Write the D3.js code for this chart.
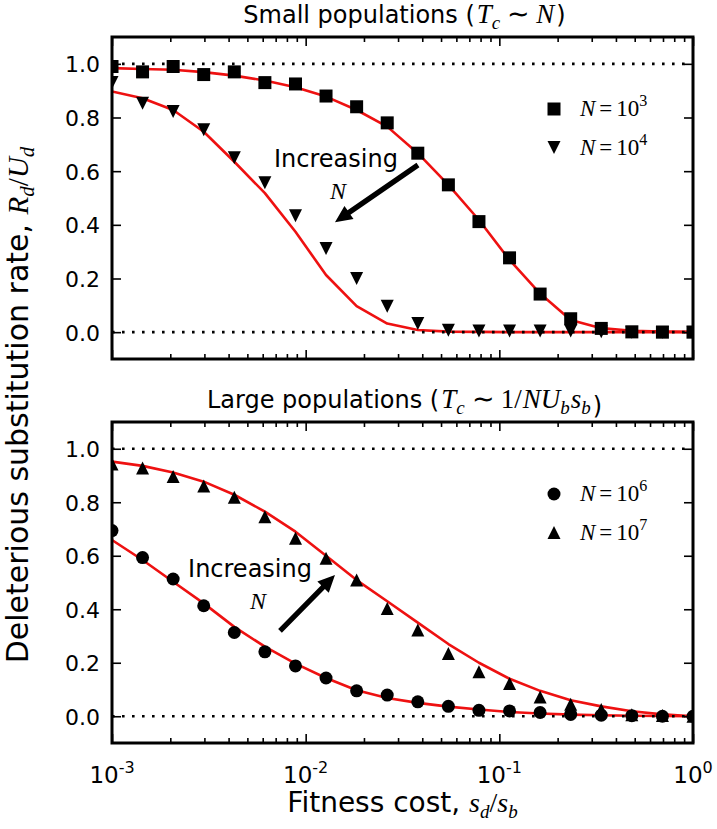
<!DOCTYPE html>
<html><head><meta charset="utf-8">
<script src="https://cdn.jsdelivr.net/npm/d3@7"></script>
<style>
body{margin:0;background:#fff}
svg{display:block;font-family:"DejaVu Sans",sans-serif}
</style>
</head><body>
<svg id="chart" width="717" height="829"></svg>
<script>
// ---------- data ----------
const xValues = [0.001, 0.001438, 0.002069, 0.002976, 0.004281, 0.006158, 0.008859, 0.01274, 0.01833, 0.02637,
                 0.03793, 0.05456, 0.07848, 0.1129, 0.1624, 0.2336, 0.3360, 0.4833, 0.6952, 1.0];

// Small populations
const simN1e3 = [0.99, 0.97, 0.99, 0.96, 0.97, 0.93, 0.925, 0.88, 0.84, 0.78,
                 0.667, 0.549, 0.412, 0.277, 0.142, 0.05, 0.014, 0.001, 0.0, 0.0];
const simN1e4 = [0.93, 0.853, 0.822, 0.754, 0.650, 0.557, 0.434, 0.312, 0.200, 0.097,
                 0.032, 0.007, 0.004, 0.004, 0.004, 0.004, 0.002, 0.0, 0.0, 0.0];
const theoryN1e3 = [0.984, 0.981, 0.978, 0.969, 0.956, 0.938, 0.913, 0.878, 0.828, 0.766,
                    0.667, 0.549, 0.418, 0.269, 0.144, 0.045, 0.015, 0.005, 0.002, 0.001];
const theoryN1e4 = [0.897, 0.872, 0.828, 0.747, 0.635, 0.518, 0.374, 0.213, 0.097, 0.032,
                    0.008, 0.002, 0.001, 0.0, 0.0, 0.0, 0.0, 0.0, 0.0, 0.0];

// Large populations
const simN1e6 = [0.694, 0.593, 0.513, 0.413, 0.313, 0.241, 0.188, 0.143, 0.095, 0.079,
                 0.054, 0.037, 0.022, 0.020, 0.014, 0.007, 0.004, 0.002, 0.0, 0.0];
const simN1e7 = [0.943, 0.928, 0.896, 0.861, 0.819, 0.746, 0.665, 0.591, 0.509, 0.403,
                 0.322, 0.235, 0.166, 0.122, 0.072, 0.045, 0.025, 0.006, 0.003, 0.0];
const theoryN1e6 = [0.659, 0.584, 0.503, 0.422, 0.334, 0.260, 0.197, 0.143, 0.097, 0.068,
                    0.050, 0.036, 0.025, 0.016, 0.010, 0.006, 0.004, 0.002, 0.001, 0.0];
const theoryN1e7 = [0.952, 0.936, 0.911, 0.877, 0.828, 0.765, 0.690, 0.600, 0.509, 0.430,
                    0.350, 0.270, 0.200, 0.140, 0.095, 0.060, 0.037, 0.019, 0.007, 0.0];

const yTickValues = [0.0, 0.2, 0.4, 0.6, 0.8, 1.0];
const xMajorTicks = [1e-3, 1e-2, 1e-1, 1];
const xTickExponents = ["-3", "-2", "-1", "0"];
const refLines = [0, 1];

// ---------- layout ----------
const svg = d3.select("#chart");
const L = 112, R = 693;
const x = d3.scaleLog().domain([1e-3, 1]).range([L, R]);
const serif = '"Liberation Serif","Times New Roman",serif';

const panels = [
  {top: 37, bottom: 359, titlePre: "Small populations (", titleMath: "small",
   series: [
     {sim: simN1e3, theory: theoryN1e3, marker: "square", exp: "3"},
     {sim: simN1e4, theory: theoryN1e4, marker: "down", exp: "4"}],
   arrow: {tail: [0.038, 0.623], tip: [0.01417, 0.41], text: [0.01434, 0.617], n: [0.0147, 0.495]}},
  {top: 422, bottom: 743, titlePre: "Large populations (", titleMath: "large",
   series: [
     {sim: simN1e6, theory: theoryN1e6, marker: "circle", exp: "6"},
     {sim: simN1e7, theory: theoryN1e7, marker: "up", exp: "7"}],
   arrow: {tail: [0.00737, 0.319], tip: [0.01417, 0.528], text: [0.00516, 0.522], n: [0.00568, 0.40]}}
];

function markerPath(type, s) {
  const h = s / 2;
  if (type === "square") return `M${-h},${-h}H${h}V${h}H${-h}Z`;
  if (type === "down") return `M0,${h}L${-h},${-h}L${h},${-h}Z`;
  if (type === "up") return `M0,${-h}L${-h},${h}L${h},${h}Z`;
  return d3.symbol(d3.symbolCircle, Math.PI * h * h)();
}

function addMathN(t, exp, size) {
  t.append("tspan").attr("font-family", serif).attr("font-style", "italic").text("N");
  t.append("tspan").attr("font-family", serif).attr("dx", 4).text("=");
  t.append("tspan").attr("font-family", serif).attr("dx", 4).text("10");
  t.append("tspan").attr("font-family", serif).attr("font-size", size * 0.7).attr("dy", -size * 0.42).text(exp);
}

panels.forEach((p, pi) => {
  const y = d3.scaleLinear().domain([-0.1, 1.1]).range([p.bottom, p.top]);
  const g = svg.append("g");
  const clipId = "clip" + pi;
  svg.append("clipPath").attr("id", clipId).append("rect")
    .attr("x", L).attr("y", p.top).attr("width", R - L).attr("height", p.bottom - p.top);
  const plot = g.append("g").attr("clip-path", `url(#${clipId})`);

  // theory curves
  const line = d3.line().x((d, i) => x(xValues[i])).y(d => y(d));
  p.series.forEach(s => {
    plot.append("path").attr("d", line(s.theory)).attr("fill", "none")
      .attr("stroke", "#ee1111").attr("stroke-width", 2.6).attr("stroke-linejoin", "round");
  });

  // dotted reference lines
  refLines.forEach(v => {
    plot.append("line").attr("x1", L).attr("x2", R).attr("y1", y(v)).attr("y2", y(v))
      .attr("stroke", "#000").attr("stroke-width", 2.6).attr("stroke-dasharray", "2.6,7.4");
  });

  // simulation markers
  p.series.forEach(s => {
    plot.selectAll(null).data(s.sim).enter().append("path")
      .attr("d", markerPath(s.marker, 13))
      .attr("transform", (d, i) => `translate(${x(xValues[i])},${y(d)})`)
      .attr("fill", "#000");
  });

  // axes (ticks inward on all sides)
  const minor = x.ticks().filter(v => !xMajorTicks.some(m => Math.abs(m - v) / m < 1e-9));
  const mk = (axis, tr) => g.append("g").attr("transform", tr).call(axis)
      .call(a => a.select(".domain").remove())
      .call(a => a.selectAll(".tick line").attr("stroke", "#000").attr("stroke-width", 1.6));
  mk(d3.axisBottom(x).tickValues(xMajorTicks).tickSize(-9).tickFormat(""), `translate(0,${p.bottom})`);
  mk(d3.axisBottom(x).tickValues(minor).tickSize(-5).tickFormat(""), `translate(0,${p.bottom})`);
  mk(d3.axisTop(x).tickValues(xMajorTicks).tickSize(-9).tickFormat(""), `translate(0,${p.top})`);
  mk(d3.axisTop(x).tickValues(minor).tickSize(-5).tickFormat(""), `translate(0,${p.top})`);
  mk(d3.axisRight(y).tickValues(yTickValues).tickSize(-9).tickFormat(""), `translate(${R},0)`);
  const left = mk(d3.axisLeft(y).tickValues(yTickValues).tickSize(-9).tickPadding(12)
      .tickFormat(d3.format(".1f")), `translate(${L},0)`);
  left.attr("font-size", null).attr("font-family", null);
  left.selectAll("text").attr("font-size", 22).attr("fill", "#000").attr("dy", "0.36em");

  // frame
  g.append("rect").attr("x", L).attr("y", p.top).attr("width", R - L).attr("height", p.bottom - p.top)
    .attr("fill", "none").attr("stroke", "#000").attr("stroke-width", 3);

  // title
  const t = g.append("text").attr("x", (L + R) / 2 + 2).attr("y", p.top - 14)
    .attr("text-anchor", "middle").attr("font-size", 24);
  t.append("tspan").text(p.titlePre);
  const it = (txt, dx) => t.append("tspan").attr("font-family", serif).attr("font-style", "italic")
      .attr("font-size", 27).attr("dx", dx || 0).text(txt);
  const sub = (txt) => t.append("tspan").attr("font-family", serif).attr("font-style", "italic")
      .attr("font-size", 19).attr("dy", 6).text(txt);
  it("T", 2);
  sub("c");
  t.append("tspan").attr("font-family", serif).attr("font-size", 27).attr("dy", -6).attr("dx", 7).text("\u223C");
  if (p.titleMath === "small") {
    it("N", 6);
  } else {
    t.append("tspan").attr("font-family", serif).attr("font-size", 27).attr("dx", 6).text("1/");
    it("NU", 1);
    sub("b");
    t.append("tspan").attr("font-family", serif).attr("font-style", "italic").attr("font-size", 27).attr("dy", -6).attr("dx", 1).text("s");
    sub("b");
    t.append("tspan").attr("dy", -6).text("");
  }
  t.append("tspan").attr("dx", 2).text(")");

  // legend
  p.series.forEach((s, si) => {
    const cy = p.top + 72 + si * 38.5;
    g.append("path").attr("d", markerPath(s.marker, 13)).attr("transform", `translate(554,${cy})`).attr("fill", "#000");
    const lt = g.append("text").attr("x", 580).attr("y", cy + 7).attr("font-size", 23);
    addMathN(lt, s.exp, 23);
  });

  // annotation arrow
  const a = p.arrow;
  const tail = [x(a.tail[0]), y(a.tail[1])], tip = [x(a.tip[0]), y(a.tip[1])];
  const dxv = tip[0] - tail[0], dyv = tip[1] - tail[1], len = Math.hypot(dxv, dyv);
  const ux = dxv / len, uy = dyv / len, nx = -uy, ny = ux;
  const hl = 17, hw = 8, sw = 2.6;
  const bx = tip[0] - ux * hl, by = tip[1] - uy * hl;
  const pts = [
    [tail[0] + nx * sw, tail[1] + ny * sw], [bx + nx * sw, by + ny * sw], [bx + nx * hw, by + ny * hw],
    tip, [bx - nx * hw, by - ny * hw], [bx - nx * sw, by - ny * sw], [tail[0] - nx * sw, tail[1] - ny * sw]];
  g.append("path").attr("d", "M" + pts.map(q => q.join(",")).join("L") + "Z").attr("fill", "#000");
  g.append("text").attr("x", x(a.text[0])).attr("y", y(a.text[1])).attr("text-anchor", "middle")
    .attr("font-size", 24).text("Increasing");
  g.append("text").attr("x", x(a.n[0])).attr("y", y(a.n[1])).attr("text-anchor", "middle")
    .attr("font-size", 24).attr("font-family", serif).attr("font-style", "italic").text("N");

  // x tick labels (bottom panel only)
  if (pi === 1) {
    xMajorTicks.forEach((v, i) => {
      const tt = g.append("text").attr("x", x(v)).attr("y", p.bottom + 40).attr("text-anchor", "middle").attr("font-size", 23);
      tt.append("tspan").text("10");
      tt.append("tspan").attr("font-size", 16).attr("dy", -10).text(xTickExponents[i]);
    });
  }
});

// axis labels
const xl = svg.append("text").attr("x", (L + R) / 2).attr("y", 812).attr("text-anchor", "middle").attr("font-size", 28);
xl.append("tspan").text("Fitness cost, ");
xl.append("tspan").attr("font-family", serif).attr("font-style", "italic").text("s");
xl.append("tspan").attr("font-family", serif).attr("font-style", "italic").attr("font-size", 19).attr("dy", 6).text("d");
xl.append("tspan").attr("font-family", serif).attr("dy", -6).text("/");
xl.append("tspan").attr("font-family", serif).attr("font-style", "italic").text("s");
xl.append("tspan").attr("font-family", serif).attr("font-style", "italic").attr("font-size", 19).attr("dy", 6).text("b");

const yl = svg.append("text").attr("transform", "translate(28,405) rotate(-90)").attr("text-anchor", "middle").attr("font-size", 30);
yl.append("tspan").text("Deleterious substitution rate, ");
yl.append("tspan").attr("font-family", serif).attr("font-style", "italic").attr("font-size", 29).text("R");
yl.append("tspan").attr("font-family", serif).attr("font-style", "italic").attr("font-size", 21).attr("dy", 6).text("d");
yl.append("tspan").attr("font-family", serif).attr("font-size", 29).attr("dy", -6).text("/");
yl.append("tspan").attr("font-family", serif).attr("font-style", "italic").attr("font-size", 29).text("U");
yl.append("tspan").attr("font-family", serif).attr("font-style", "italic").attr("font-size", 21).attr("dy", 6).text("d");
</script>
</body></html>
